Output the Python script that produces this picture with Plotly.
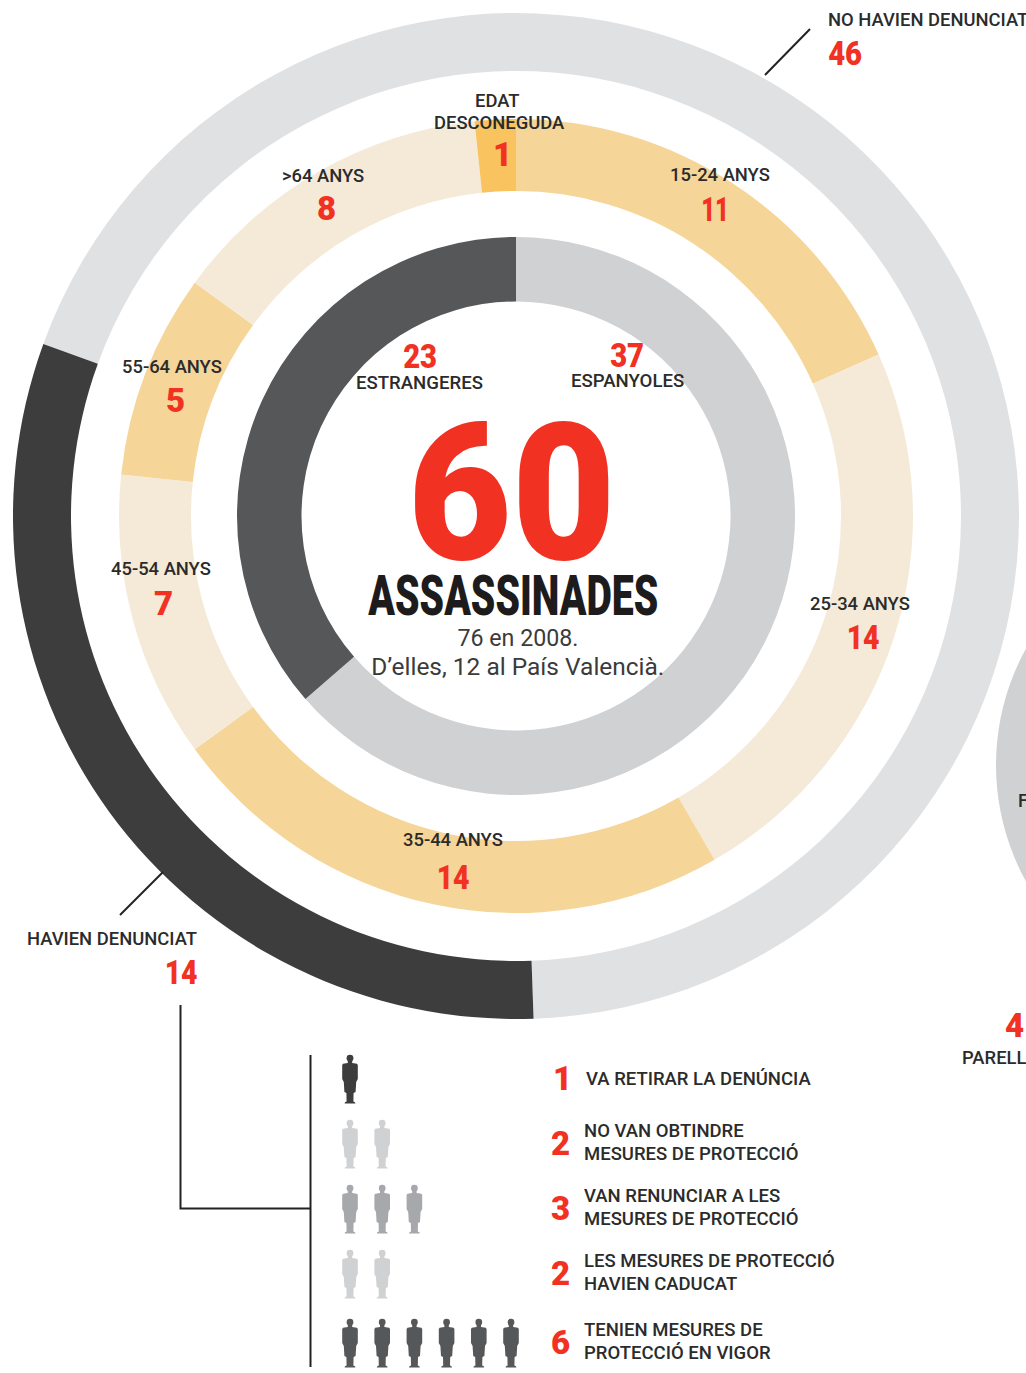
import json
import plotly.graph_objects as go

W, H = 1026, 1373
CX, CY = 516, 516

# ---- data
outer_labels = ["NO HAVIEN DENUNCIAT", "HAVIEN DENUNCIAT"]
outer_counts = [46, 14]
outer_drawn_arc_degrees = [248, 112]   # the printed ring is not proportional to its counts

age_labels = ["15-24 ANYS", "25-34 ANYS", "35-44 ANYS", "45-54 ANYS", "55-64 ANYS", ">64 ANYS", "EDAT DESCONEGUDA"]
age_counts = [11, 14, 14, 7, 5, 8, 1]

origin_labels = ["ESPANYOLES", "ESTRANGERES"]
origin_counts = [37, 23]
origin_drawn_arc_degrees = [229, 131]

total = 60
reason_lines = [["VA RETIRAR LA DENÚNCIA"],
                ["NO VAN OBTINDRE", "MESURES DE PROTECCIÓ"],
                ["VAN RENUNCIAR A LES", "MESURES DE PROTECCIÓ"],
                ["LES MESURES DE PROTECCIÓ", "HAVIEN CADUCAT"],
                ["TENIEN MESURES DE", "PROTECCIÓ EN VIGOR"]]
reason_counts = [1, 2, 3, 2, 6]

# ---- styles
RED = "#f13223"
INK = "#2b2b2b"
AGE_COLORS = ["#f5d598", "#f5ead8", "#f5d598", "#f5ead8", "#f5d598", "#f5ead8", "#f9c35f"]
PERSON_COLORS = ["#3d3d3d", "#d0d1d3", "#a7a8ab", "#d0d1d3", "#565759"]
FONT = "Roboto"
LABEL = 18.4
# printed widths of the condensed display type, in pixels
TEXT_WIDTHS = {"60": 208, "ASSASSINADES": 290, "46": 34, "14": 33, "23": 34, "37": 34, "11": 28,
               "76 en 2008.": 121, "D’elles, 12 al País Valencià.": 293}


def ring(values, colors, r_out, r_in, rotation):
    return go.Pie(
        values=values, sort=False, direction="clockwise", rotation=rotation,
        hole=r_in / r_out, textinfo="none", hoverinfo="skip", showlegend=False,
        marker=dict(colors=colors, line=dict(width=0)),
        domain=dict(x=[(CX - r_out) / W, (CX + r_out) / W],
                    y=[1 - (CY + r_out) / H, 1 - (CY - r_out) / H]),
    )


fig = go.Figure()
fig.add_trace(go.Scatter(x=[0, W], y=[0, H], mode="markers", marker=dict(opacity=0), hoverinfo="skip", showlegend=False))
fig.add_trace(ring(outer_drawn_arc_degrees, ["#e0e1e3", "#3d3d3d"], 503, 445, 290))
fig.add_trace(ring(age_counts, AGE_COLORS, 397, 325, 0))
fig.add_trace(ring(origin_drawn_arc_degrees, ["#d0d1d3", "#565759"], 279, 214.5, 0))

shapes = []
def line(pts, width=2, color="#222222"):
    d = "M" + " L".join(f"{x},{y}" for x, y in pts)
    shapes.append(dict(type="path", path=d, xref="x", yref="y", line=dict(color=color, width=width), layer="above"))

line([(810, 29), (765, 75)])
line([(163, 872), (120, 915)])
line([(180.5, 1005), (180.5, 1208.5), (310.5, 1208.5)])
line([(310.5, 1055), (310.5, 1367)])

# partial neighbouring circle at the right edge
shapes.append(dict(type="circle", xref="x", yref="y", x0=996, x1=1478, y0=524, y1=1006,
                   fillcolor="#d0d1d3", line=dict(width=0), layer="below"))


def person(cx, top, color):
    pts = [(-2.2, 6), (-2.2, 8), (-7, 8.8), (-7.8, 10), (-7.8, 24), (-6.2, 27), (-5.6, 37), (-3.6, 38),
           (-3.4, 46.5), (-5, 47.2), (-5.4, 48.6)]
    right = [(-x, y) for x, y in reversed(pts)]
    d = "M" + " L".join(f"{cx + x},{top + y}" for x, y in pts + right) + " Z"
    shapes.append(dict(type="path", path=d, xref="x", yref="y", fillcolor=color, line=dict(width=0), layer="above"))
    shapes.append(dict(type="circle", xref="x", yref="y", x0=cx - 3.4, x1=cx + 3.4, y0=top - 0.2, y1=top + 6.6,
                       fillcolor=color, line=dict(width=0), layer="above"))


row_tops = [1055, 1120, 1185, 1250, 1319]
for n, top, color in zip(reason_counts, row_tops, PERSON_COLORS):
    for i in range(n):
        person(350 + i * 32.2, top, color)

ann = []
def text(s, x, y, size, color=INK, weight=500, anchor="center"):
    if anchor == "left":
        x -= 2
    ann.append(dict(text=s, x=x, y=y, xref="x", yref="y", xanchor=anchor, yanchor="middle", showarrow=False,
                    font=dict(family=FONT, size=size, color=color, weight=weight)))

def num(v, x, y, size=33):
    text(str(v), x, y, size, color=RED, weight=900)

# outer labels
text(outer_labels[0], 828, 19.5, LABEL, anchor="left")
num(outer_counts[0], 845, 53)
text(outer_labels[1], 112, 938.5, LABEL)
num(outer_counts[1], 180.5, 972)

# age labels
age_label_pos = [(720, 174.5), (860, 603.5), (453, 839.5), (161, 568.5), (172, 366.5), (323, 175.5)]
age_num_pos = [(715, 209), (863, 637), (453, 877), (163, 603), (175, 400), (326, 208)]
for lab, v, lp, np_ in zip(age_labels[:6], age_counts[:6], age_label_pos, age_num_pos):
    text(lab, lp[0], lp[1], LABEL)
    num(v, np_[0], np_[1])
text("EDAT", 497, 100.5, LABEL)
text("DESCONEGUDA", 499, 122.5, LABEL)
num(age_counts[6], 502, 154)

# inner labels
num(origin_counts[1], 420, 356)
text(origin_labels[1], 419, 382.5, 18.6)
num(origin_counts[0], 627, 355)
text(origin_labels[0], 627, 380.5, 18.6)

# centre
text(str(total), 511.5, 494, 191, color=RED, weight=900)
text("ASSASSINADES", 512.5, 595.5, 55, color="#1d1b1b", weight=900)
text("76 en 2008.", 518, 638.5, 23, color="#3b3b3b", weight=400)
text("D’elles, 12 al País Valencià.", 518, 667.5, 23, color="#3b3b3b", weight=400)

# reasons
reason_num_pos = [(562, 1078), (560, 1143), (560, 1208), (560, 1273), (560, 1342)]
reason_line_ys = [[1079], [1131, 1154], [1196, 1219], [1261, 1284], [1330, 1353]]
reason_line_x = [586, 584, 584, 584, 584]
for v, p, lines, ys, lx in zip(reason_counts, reason_num_pos, reason_lines, reason_line_ys, reason_line_x):
    num(v, p[0], p[1])
    for s, y in zip(lines, ys):
        text(s, lx, y - 0.5, 18.5, anchor="left")

# cut-off neighbours at the right edge
text("F", 1018, 800, LABEL, anchor="left")
text("4", 1005, 1025, 33, color=RED, weight=900, anchor="left")
text("PARELL", 962, 1057, LABEL, anchor="left")

fig.update_layout(
    width=W, height=H, margin=dict(l=0, r=0, t=0, b=0), autosize=False,
    paper_bgcolor="white", plot_bgcolor="white",
    xaxis=dict(range=[0, W], visible=False, fixedrange=True),
    yaxis=dict(range=[H, 0], visible=False, fixedrange=True),
    shapes=shapes, annotations=ann,
)
post = """
document.body.style.margin='0';document.documentElement.style.overflow='hidden';
var widths = %s;
document.querySelectorAll('.annotation-text').forEach(function(t){
  var w = widths[t.textContent];
  if (w) { t.setAttribute('textLength', w); t.setAttribute('lengthAdjust', 'spacingAndGlyphs'); }
});
""" % json.dumps(TEXT_WIDTHS, ensure_ascii=False)
fig.write_html("out.html", config=dict(displayModeBar=False), post_script=post)
